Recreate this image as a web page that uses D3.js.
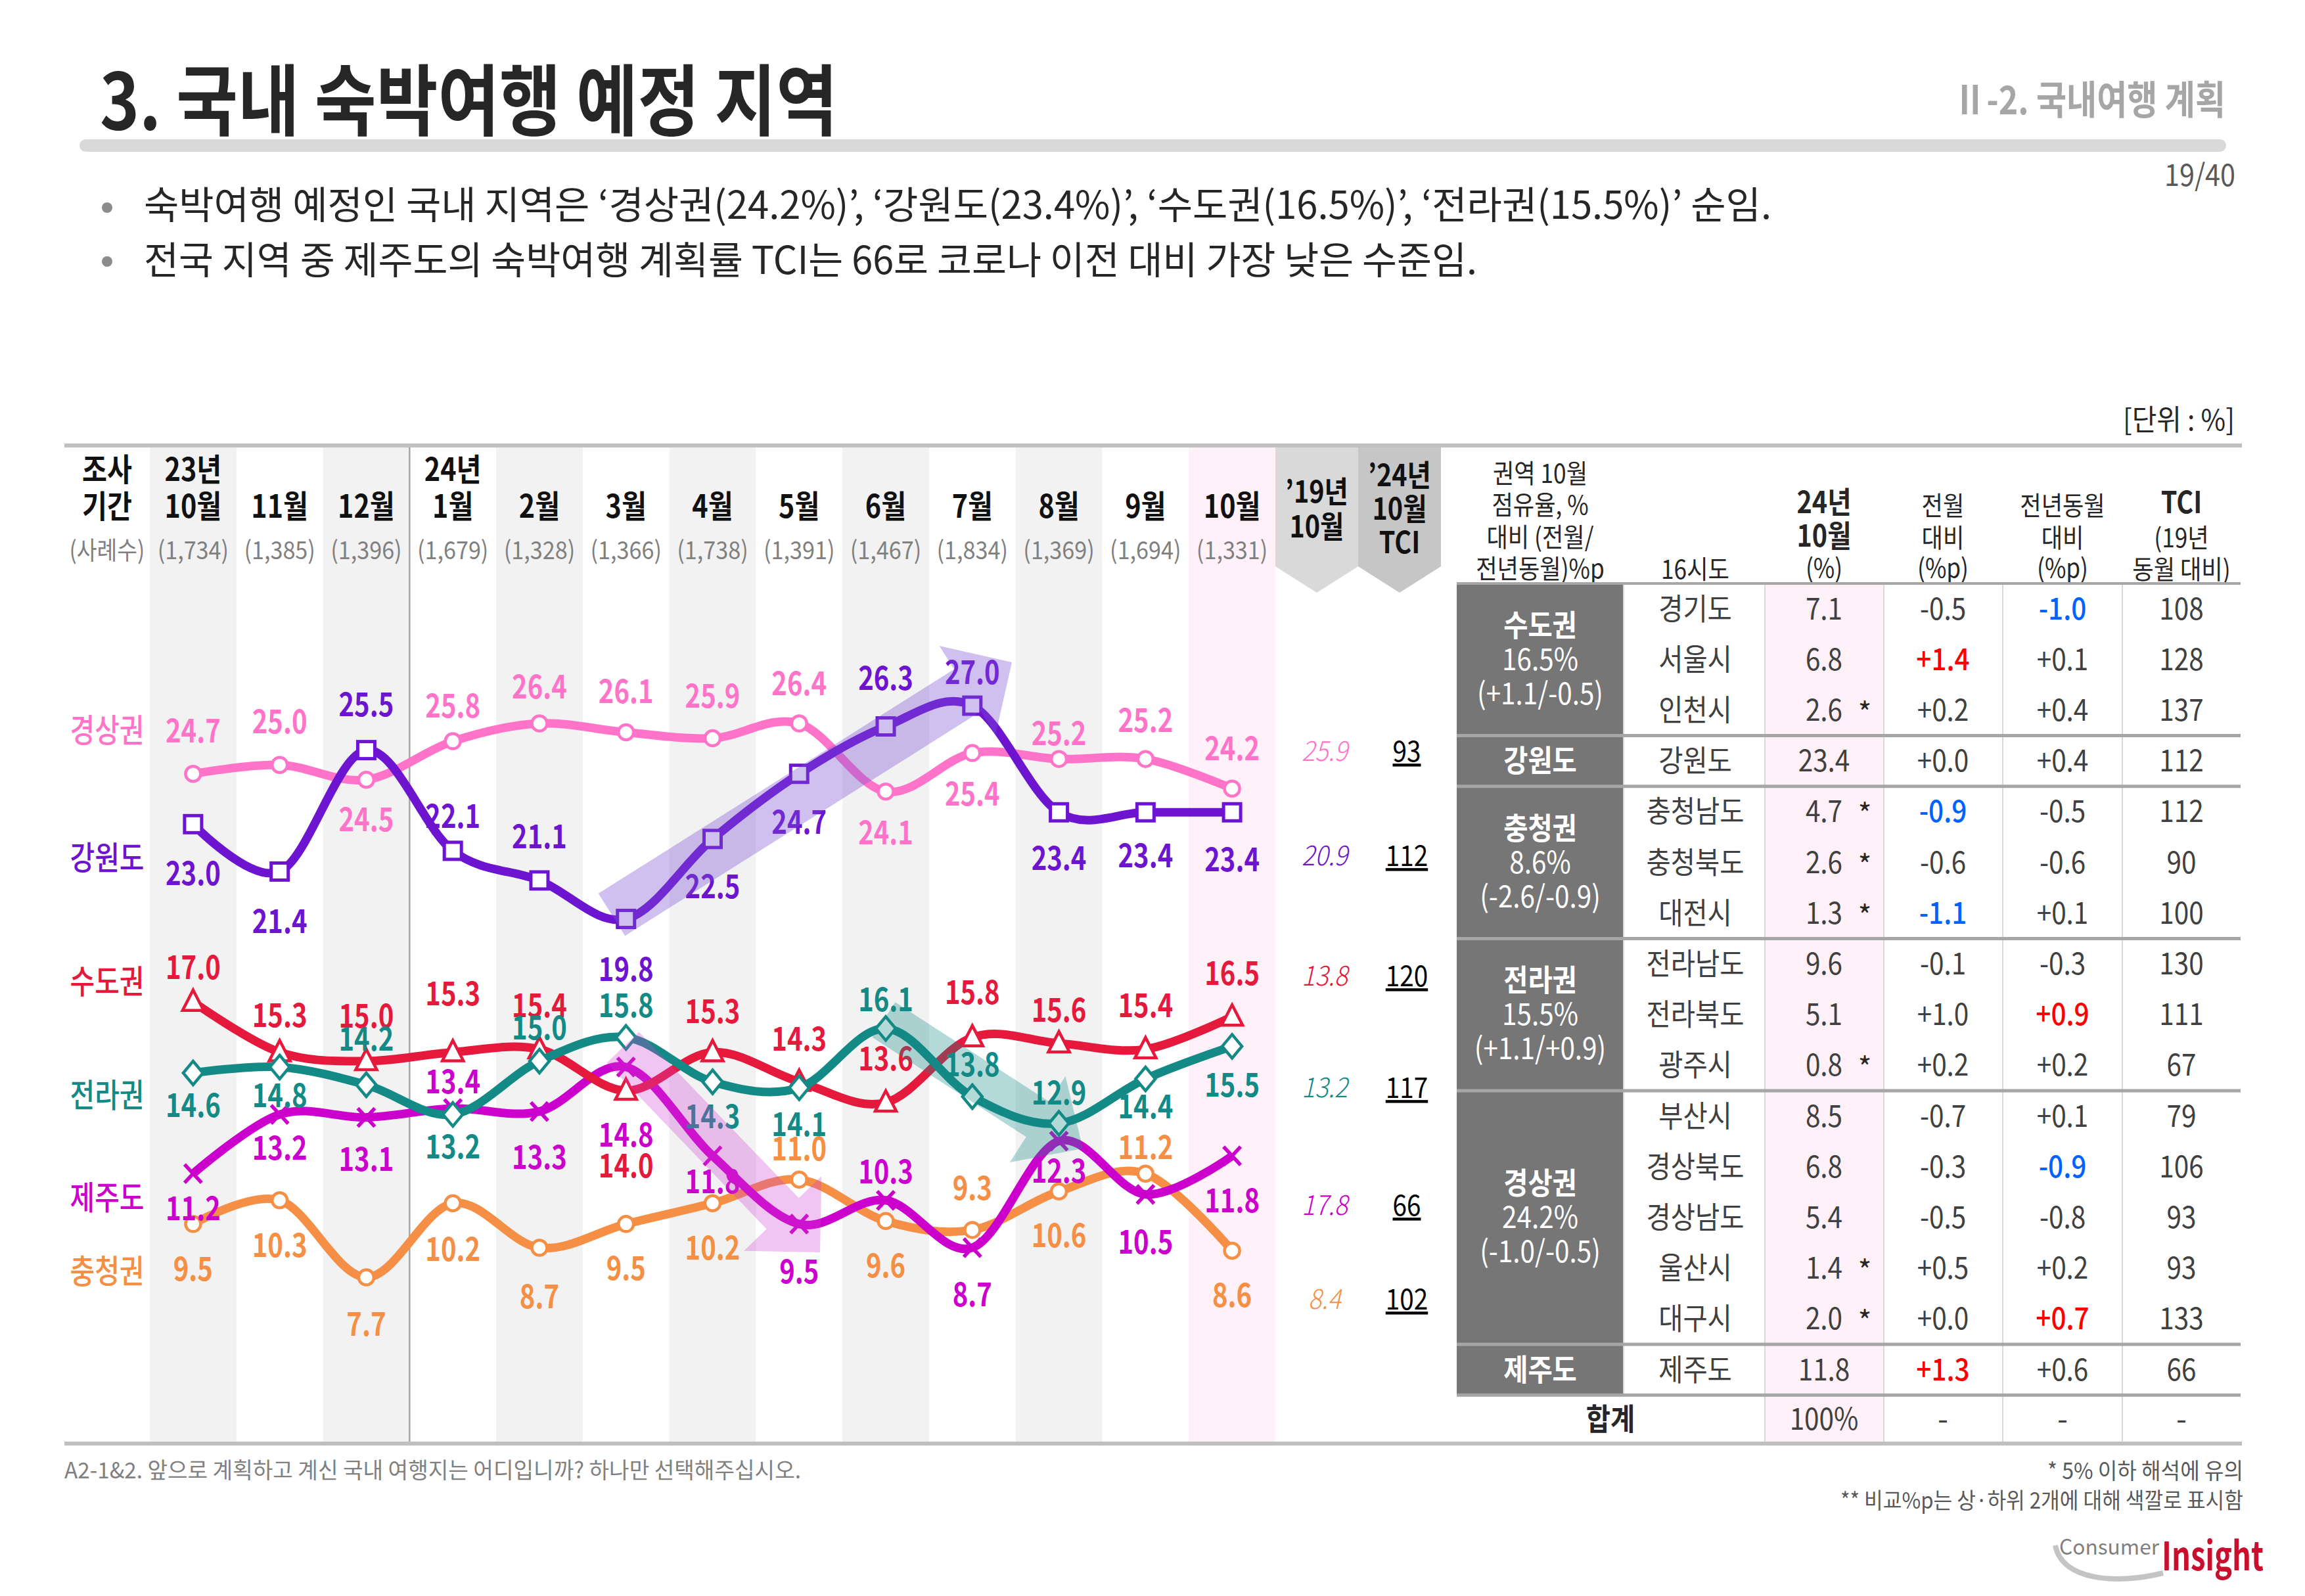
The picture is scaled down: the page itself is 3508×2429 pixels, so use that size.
<!DOCTYPE html>
<html><head><meta charset="utf-8">
<script src="https://cdn.jsdelivr.net/npm/d3@7"></script>
<style>
html,body{margin:0;padding:0;background:#fff;}
svg{display:block;}
text{font-family:"Noto Sans CJK KR","Noto Sans",sans-serif;}
</style></head><body>
<svg id="c" width="3508" height="2429"></svg>
<script>
// ---------------- data ----------------
const months = ["10월","11월","12월","1월","2월","3월","4월","5월","6월","7월","8월","9월","10월"];
const years  = ["23년","","","24년","","","","","","","","",""];
const cases  = ["(1,734)","(1,385)","(1,396)","(1,679)","(1,328)","(1,366)","(1,738)","(1,391)","(1,467)","(1,834)","(1,369)","(1,694)","(1,331)"];

const seriesNames = ["경상권","강원도","수도권","전라권","제주도","충청권"];
const gyeongsang  = [24.7,25.0,24.5,25.8,26.4,26.1,25.9,26.4,24.1,25.4,25.2,25.2,24.2];
const gangwon     = [23.0,21.4,25.5,22.1,21.1,19.8,22.5,24.7,26.3,27.0,23.4,23.4,23.4];
const sudo        = [17.0,15.3,15.0,15.3,15.4,14.0,15.3,14.3,13.6,15.8,15.6,15.4,16.5];
const jeolla      = [14.6,14.8,14.2,13.2,15.0,15.8,14.3,14.1,16.1,13.8,12.9,14.4,15.5];
const jeju        = [11.2,13.2,13.1,13.4,13.3,14.8,11.8,9.5,10.3,8.7,12.3,10.5,11.8];
const chungcheong = [9.5,10.3,7.7,10.2,8.7,9.5,10.2,11.0,9.6,9.3,10.6,11.2,8.6];
const val2019 = ["25.9","20.9","13.8","13.2","17.8","8.4"];
const tci2024 = ["93","112","120","117","66","102"];

const regionNames  = ["수도권","강원도","충청권","전라권","경상권","제주도"];
const regionShares = ["16.5%","","8.6%","15.5%","24.2%",""];
const regionDiffs  = ["(+1.1/-0.5)","","(-2.6/-0.9)","(+1.1/+0.9)","(-1.0/-0.5)",""];
const regionCounts = [3,1,3,3,5,1];
const provinces = ["경기도","서울시","인천시","강원도","충청남도","충청북도","대전시","전라남도","전라북도","광주시","부산시","경상북도","경상남도","울산시","대구시","제주도"];
const share24   = ["7.1","6.8","2.6","23.4","4.7","2.6","1.3","9.6","5.1","0.8","8.5","6.8","5.4","1.4","2.0","11.8"];
const lowBase   = [false,false,true,false,true,true,true,false,false,true,false,false,false,true,true,false];
const momDiff   = ["-0.5","+1.4","+0.2","+0.0","-0.9","-0.6","-1.1","-0.1","+1.0","+0.2","-0.7","-0.3","-0.5","+0.5","+0.0","+1.3"];
const yoyDiff   = ["-1.0","+0.1","+0.4","+0.4","-0.5","-0.6","+0.1","-0.3","+0.9","+0.2","+0.1","-0.9","-0.8","+0.2","+0.7","+0.6"];
const tciProv   = ["108","128","137","112","112","90","100","130","111","67","79","106","93","93","133","66"];

// ---------------- layout / style ----------------
const seriesValues = [gyeongsang,gangwon,sudo,jeolla,jeju,chungcheong];
const seriesColors = ["#ff74c9","#6c14d0","#e5193b","#138a85","#cc00cc","#f48f45"];
const markerTypes  = ["circle","square","triangle","diamond","x","circle"];
const drawOrder    = [5,4,2,3,0,1];
const labelDy = [
 [-66,-66,60,-54,-56,-63,-65,-61,62,62,-39,-59,-61],
 [75,76,-70,-53,-67,76,72,73,-74,-51,70,66,72],
 [-53,-56,-69,-89,-67,114,-62,-65,-67,-69,-51,-67,-66],
 [49,43,-70,49,-51,-49,53,56,-44,-49,-47,42,59],
 [53,51,63,-41,69,103,39,72,-44,71,45,72,68],
 [68,68,71,70,74,67,68,-47,68,-64,67,-40,68]
];
const nameY  = [1112,1306,1494,1667,1823,1935];
const rightY = [1143,1302,1485,1655,1834,1977];

const svg = d3.select("#c");

function T(sel, x, y, str, o = {}) {
  const t = sel.append("text")
    .attr("x", x).attr("y", y)
    .attr("font-size", o.size || 40)
    .attr("font-weight", o.weight || 400)
    .attr("fill", o.fill || "#262626")
    .attr("text-anchor", o.anchor || "middle")
    .text(str);
  if (o.style) t.attr("font-style", o.style);
  if (o.tl) t.attr("textLength", o.tl).attr("lengthAdjust", "spacingAndGlyphs");
  if (o.sx && o.sx !== 1) t.attr("transform", `translate(${x},${y}) scale(${o.sx},1) translate(${-x},${-y})`);
  if (o.deco) t.attr("text-decoration", o.deco);
  return t;
}

// ---------------- page header ----------------
T(svg,152,197,"3. 국내 숙박여행 예정 지역",{size:118,weight:700,fill:"#262626",anchor:"start",tl:1123});
svg.append("rect").attr("x",121).attr("y",212).attr("width",3267).attr("height",19).attr("rx",9.5).attr("fill","#d9d9d9");
T(svg,3387,174,"Ⅱ-2. 국내여행 계획",{size:60,weight:700,fill:"#a6a6a6",anchor:"end",tl:414});
T(svg,3402,283,"19/40",{size:46,fill:"#595959",anchor:"end",tl:108});
svg.append("circle").attr("cx",163).attr("cy",316).attr("r",8).attr("fill","#8c8c8c");
svg.append("circle").attr("cx",163).attr("cy",398).attr("r",8).attr("fill","#8c8c8c");
T(svg,219,333,"숙박여행 예정인 국내 지역은 ‘경상권(24.2%)’, ‘강원도(23.4%)’, ‘수도권(16.5%)’, ‘전라권(15.5%)’ 순임.",{size:58,anchor:"start",tl:2477});
T(svg,219,417,"전국 지역 중 제주도의 숙박여행 계획률 TCI는 66로 코로나 이전 대비 가장 낮은 수준임.",{size:58,anchor:"start",tl:2029});
T(svg,3401,655,"[단위 : %]",{size:44,anchor:"end",tl:170});

// ---------------- chart ----------------
const xb = d3.scaleBand().domain(d3.range(13)).range([228,1941]).padding(0);
const bw = xb.bandwidth();
const xc = i => xb(i) + bw/2;
const y = d3.scaleLinear().domain([7.7,27.0]).range([1944,1074]);

const gBand = svg.append("g");
d3.range(13).forEach(i => {
  const fill = i === 12 ? "#fff1f7" : (i % 2 === 0 ? "#f2f2f2" : null);
  if (fill) gBand.append("rect").attr("x",xb(i)).attr("y",681).attr("width",bw).attr("height",2194-681).attr("fill",fill);
});
svg.append("line").attr("x1",xb(3)).attr("x2",xb(3)).attr("y1",681).attr("y2",2194).attr("stroke","#a6a6a6").attr("stroke-width",2.5);

function chevron(x0,x1,fill){
  const m=(x0+x1)/2;
  svg.append("path").attr("d",`M${x0},681 L${x1},681 L${x1},862 L${m},902 L${x0},862 Z`).attr("fill",fill);
}
chevron(1941,2067,"#d9d9d9");
chevron(2067,2193,"#c6c6c6");

T(svg,163,732,"조사",{size:48,weight:700,fill:"#111",sx:0.86});
T(svg,163,788,"기간",{size:48,weight:700,fill:"#111",sx:0.86});
T(svg,163,851,"(사례수)",{size:38,fill:"#808080",sx:0.88});
months.forEach((m,i) => {
  if (years[i]) T(svg,xc(i),732,years[i],{size:48,weight:700,fill:"#111",sx:0.86});
  T(svg,xc(i),788,m,{size:48,weight:700,fill:"#111",sx:0.86});
  T(svg,xc(i),851,cases[i],{size:38,fill:"#808080",sx:0.9});
});
T(svg,2004,765,"’19년",{size:46,weight:700,fill:"#111",sx:0.86});
T(svg,2004,818,"10월",{size:46,weight:700,fill:"#111",sx:0.86});
T(svg,2130,740,"’24년",{size:46,weight:700,fill:"#111",sx:0.86});
T(svg,2130,791,"10월",{size:46,weight:700,fill:"#111",sx:0.86});
T(svg,2130,842,"TCI",{size:46,weight:700,fill:"#111",sx:0.86});

// lines
const line = d3.line().x((d,i)=>xc(i)).y(d=>y(d)).curve(d3.curveCardinal.tension(0));
const gLines = svg.append("g");
drawOrder.forEach(s => {
  const col = seriesColors[s], vals = seriesValues[s];
  const g = gLines.append("g");
  g.append("path").attr("d",line(vals)).attr("fill","none").attr("stroke",col).attr("stroke-width",13).attr("stroke-linejoin","round");
  vals.forEach((v,i) => {
    const cx = xc(i), cy = y(v), t = markerTypes[s];
    if (t === "circle") g.append("circle").attr("cx",cx).attr("cy",cy).attr("r",11.5).attr("fill","#fff").attr("stroke",col).attr("stroke-width",4.5);
    else if (t === "square") g.append("rect").attr("x",cx-13).attr("y",cy-13).attr("width",26).attr("height",26).attr("fill","#fff").attr("stroke",col).attr("stroke-width",5);
    else if (t === "triangle") g.append("path").attr("d",`M${cx},${cy-18} L${cx+16},${cy+13} L${cx-16},${cy+13} Z`).attr("fill","#fff").attr("stroke",col).attr("stroke-width",4.5);
    else if (t === "diamond") g.append("path").attr("d",`M${cx},${cy-18} L${cx+15},${cy} L${cx},${cy+18} L${cx-15},${cy} Z`).attr("fill","#fff").attr("stroke",col).attr("stroke-width",4.5);
    else if (t === "x") g.append("path").attr("d",`M${cx-13},${cy-14} L${cx+13},${cy+14} M${cx+13},${cy-14} L${cx-13},${cy+14}`).attr("stroke",col).attr("stroke-width",5.5).attr("fill","none");
  });
});

// data labels
const gLab = svg.append("g");
seriesValues.forEach((vals,s) => {
  vals.forEach((v,i) => {
    T(gLab, xc(i), y(v)+labelDy[s][i]+18, v.toFixed(1), {size:50,weight:700,fill:seriesColors[s],sx:0.8});
  });
  T(svg,163,nameY[s]+18,seriesNames[s],{size:50,weight:500,fill:seriesColors[s],sx:0.82});
  T(svg,2016,rightY[s]+15,val2019[s],{size:42,weight:300,style:"italic",fill:seriesColors[s],sx:0.9});
  T(svg,2141,rightY[s]+16,tci2024[s],{size:44,fill:"#000",sx:0.88,deco:"underline"});
});

// trend arrows
function arrowPath(t,p,sw,hw,hl){
  const dx=p[0]-t[0], dy=p[1]-t[1], L=Math.hypot(dx,dy), ux=dx/L, uy=dy/L, nx=-uy, ny=ux;
  const b=[p[0]-ux*hl,p[1]-uy*hl];
  const pts=[[t[0]+nx*sw/2,t[1]+ny*sw/2],[b[0]+nx*sw/2,b[1]+ny*sw/2],[b[0]+nx*hw/2,b[1]+ny*hw/2],p,
             [b[0]-nx*hw/2,b[1]-ny*hw/2],[b[0]-nx*sw/2,b[1]-ny*sw/2],[t[0]-nx*sw/2,t[1]-ny*sw/2]];
  return d3.line()(pts)+"Z";
}
svg.append("path").attr("d",arrowPath([931,1392],[1540,1008],76,160,80)).attr("fill","#7b4fd6").attr("opacity",0.36);
svg.append("path").attr("d",arrowPath([1345,1552],[1648,1748],64,156,82)).attr("fill","#138a86").attr("opacity",0.32);
svg.append("path").attr("d",arrowPath([948,1594],[1248,1906],68,164,82)).attr("fill","#d040d0").attr("opacity",0.3);

// ---------------- table ----------------
const tx = [2217,2471,2686,2867,3048,3230,3410];
const tcx = [2344,2580,2776,2957,3139,3320];
const rowTop = 888, rowH = 77.2;
const rowC = i => rowTop + rowH*(i+0.5);

[["권역 10월",735],["점유율, %",783],["대비 (전월/",832],["전년동월)%p",880]].forEach(([s,yy]) => T(svg,tcx[0],yy,s,{size:40,sx:0.88}));
T(svg,tcx[1],881,"16시도",{size:40,sx:0.88});
T(svg,tcx[2],781,"24년",{size:46,weight:700,sx:0.86});
T(svg,tcx[2],832,"10월",{size:46,weight:700,sx:0.86});
T(svg,tcx[2],879,"(%)",{size:40,sx:0.88});
T(svg,tcx[3],784,"전월",{size:40,sx:0.88});
T(svg,tcx[3],833,"대비",{size:40,sx:0.88});
T(svg,tcx[3],879,"(%p)",{size:40,sx:0.88});
T(svg,tcx[4],784,"전년동월",{size:40,sx:0.88});
T(svg,tcx[4],833,"대비",{size:40,sx:0.88});
T(svg,tcx[4],879,"(%p)",{size:40,sx:0.88});
T(svg,tcx[5],781,"TCI",{size:46,weight:700,sx:0.86});
T(svg,tcx[5],833,"(19년",{size:40,sx:0.88});
T(svg,tcx[5],881,"동월 대비)",{size:40,sx:0.88});

svg.append("rect").attr("x",tx[2]).attr("y",rowTop).attr("width",tx[3]-tx[2]).attr("height",2194-rowTop).attr("fill","#fff1f7");
svg.append("rect").attr("x",tx[0]).attr("y",rowTop).attr("width",tx[1]-tx[0]).attr("height",rowH*16).attr("fill","#767676");
[tx[1],tx[2],tx[3],tx[4],tx[5]].forEach((xx,k) => {
  svg.append("line").attr("x1",xx).attr("x2",xx).attr("y1",rowTop).attr("y2",k===0?rowTop+rowH*16:2194).attr("stroke","#d9d9d9").attr("stroke-width",2);
});
let cum = 0;
const sepY = [];
regionCounts.forEach(n => { cum += n; sepY.push(rowTop + rowH*cum); });
sepY.forEach(yy => svg.append("line").attr("x1",tx[0]).attr("x2",tx[6]).attr("y1",yy).attr("y2",yy).attr("stroke","#a6a6a6").attr("stroke-width",5));
svg.append("line").attr("x1",tx[0]).attr("x2",tx[6]).attr("y1",rowTop).attr("y2",rowTop).attr("stroke","#a6a6a6").attr("stroke-width",4);

cum = 0;
regionNames.forEach((r,k) => {
  const start = cum, n = regionCounts[k]; cum += n;
  const mid = rowTop + rowH*(start + n/2);
  if (regionShares[k]) {
    T(svg,tcx[0],mid-52+16,r,{size:46,weight:700,fill:"#fff",sx:0.88});
    T(svg,tcx[0],mid+16,regionShares[k],{size:46,fill:"#fff",sx:0.88});
    T(svg,tcx[0],mid+52+16,regionDiffs[k],{size:46,fill:"#fff",sx:0.88});
  } else {
    T(svg,tcx[0],mid+16,r,{size:46,weight:700,fill:"#fff",sx:0.88});
  }
});

function hiLo(arr){
  const nums = arr.map(Number);
  const desc = [...nums].sort((a,b)=>b-a);
  const top2 = desc[1], bot2 = desc[desc.length-2];
  return nums.map(v => v >= top2 ? "#ff0000" : (v <= bot2 ? "#0062ff" : null));
}
const momCol = hiLo(momDiff), yoyCol = hiLo(yoyDiff);
provinces.forEach((p,i) => {
  const yy = rowC(i) + 16;
  T(svg,tcx[1],yy,p,{size:46,fill:"#404040",sx:0.88});
  T(svg,tcx[2],yy,share24[i],{size:46,fill:"#404040",sx:0.88});
  if (lowBase[i]) T(svg,2838,yy+4,"*",{size:44,fill:"#262626"});
  T(svg,tcx[3],yy,momDiff[i],{size:46,weight:momCol[i]?500:400,fill:momCol[i]||"#404040",sx:0.88});
  T(svg,tcx[4],yy,yoyDiff[i],{size:46,weight:yoyCol[i]?500:400,fill:yoyCol[i]||"#404040",sx:0.88});
  T(svg,tcx[5],yy,tciProv[i],{size:46,fill:"#404040",sx:0.88});
});
const sumY = (rowTop + rowH*16 + 2197)/2 + 16;
T(svg,2451,sumY,"합계",{size:46,weight:700,fill:"#262626",sx:0.88});
T(svg,tcx[2],sumY,"100%",{size:46,fill:"#404040",sx:0.88});
[3,4,5].forEach(k => T(svg,tcx[k],sumY,"-",{size:46,fill:"#404040"}));

svg.append("line").attr("x1",98).attr("x2",3412).attr("y1",678).attr("y2",678).attr("stroke","#bfbfbf").attr("stroke-width",6);
svg.append("line").attr("x1",98).attr("x2",3412).attr("y1",2197).attr("y2",2197).attr("stroke","#bfbfbf").attr("stroke-width",6);

// ---------------- footer ----------------
T(svg,98,2250,"A2-1&2. 앞으로 계획하고 계신 국내 여행지는 어디입니까? 하나만 선택해주십시오.",{size:34,fill:"#808080",anchor:"start",tl:1121});
T(svg,3414,2251,"* 5% 이하 해석에 유의",{size:34,fill:"#595959",anchor:"end",tl:298});
T(svg,3414,2296,"** 비교%p는 상·하위 2개에 대해 색깔로 표시함",{size:34,fill:"#595959",anchor:"end",tl:613});
svg.append("path").attr("d","M3128,2352 C3138,2405 3220,2412 3292,2394").attr("fill","none").attr("stroke","#c4c4c4").attr("stroke-width",8);
T(svg,3286,2366,"Consumer",{size:32,fill:"#7f7f7f",anchor:"end",tl:152});
T(svg,3445,2390,"Insight",{size:60,weight:700,fill:"#c8102e",anchor:"end",tl:155});
</script>
</body></html>
